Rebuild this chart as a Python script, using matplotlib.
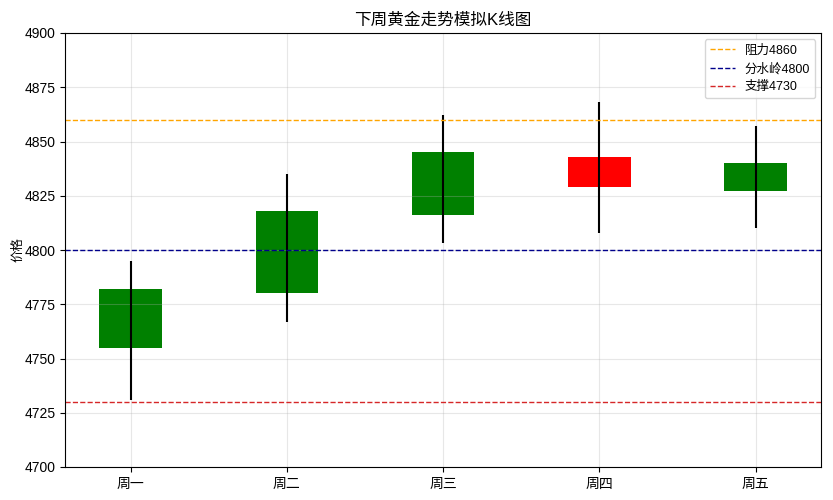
import matplotlib
matplotlib.use("Agg")
import matplotlib.pyplot as plt
import numpy as np

plt.rcParams['font.family'] = ['Liberation Sans', 'Noto Sans CJK SC', 'DejaVu Sans']
plt.rcParams['axes.unicode_minus'] = False

days = ['周一', '周二', '周三', '周四', '周五']
opens = [4755, 4780, 4816, 4843, 4827]
closes = [4782, 4818, 4845, 4829, 4840]
highs = [4795, 4835, 4862, 4868, 4857]
lows = [4731, 4767, 4803, 4808, 4810]

resistance = 4860
pivot = 4800
support = 4730

fig, ax = plt.subplots(figsize=(8.33, 5), dpi=100)
x = np.arange(len(days))

for i in range(len(days)):
    color = 'green' if closes[i] >= opens[i] else 'red'
    ax.bar(x[i], abs(closes[i] - opens[i]), bottom=min(opens[i], closes[i]),
           width=0.4, color=color)
    ax.vlines(x[i], lows[i], highs[i], color='black', linewidth=1.5)

ax.axhline(resistance, color='orange', linestyle='--', linewidth=1, label='阻力' + str(resistance))
ax.axhline(pivot, color='darkblue', linestyle='--', linewidth=1, label='分水岭' + str(pivot))
ax.axhline(support, color='tab:red', linestyle='--', linewidth=1, label='支撑' + str(support))

ax.set_xticks(x)
ax.set_xticklabels(days)
ax.set_ylim(4700, 4900)
ax.set_ylabel('价格', fontsize=9, labelpad=0)
ax.set_title('下周黄金走势模拟K线图', fontsize=12)
ax.grid(True, alpha=0.3)
ax.legend(loc='upper right', fontsize=9)

plt.subplots_adjust(left=0.078, right=0.986, top=0.934, bottom=0.066)
plt.savefig('out.png', dpi=100)
